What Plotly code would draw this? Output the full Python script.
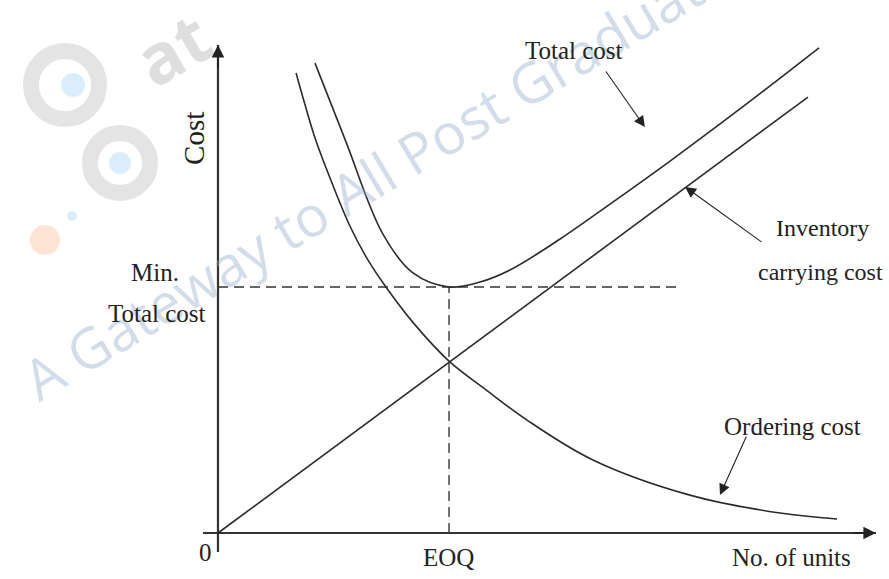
import plotly.graph_objects as go

# ---- data (chart units: EOQ = 100 units, minimum total cost = 100) ----
ordering_x = [33.8, 37.7, 42.0, 48.5, 57.1, 64.9, 72.7, 85.3, 100, 115.6, 133.8, 162.3, 204.3, 243.3, 268.0]
ordering_y = [187.0, 174.0, 160.6, 144.3, 124.8, 111.0, 100.0, 84.6, 69.9, 58.5, 45.9, 29.7, 15.4, 8.1, 5.7]

total_x = [42, 55, 71.4, 84.4, 100, 113.4, 126.4, 148.1, 169.7, 195.7, 228.1, 260.2]
total_y = [191, 160, 121.5, 105.7, 100, 102, 106.9, 119.5, 133.7, 151.2, 173.9, 197.2]

carrying_x = [0, 255.4]
carrying_y = [0, 177.2]

eoq = 100
min_total = 100
min_line_end = 199

x_axis_ext = [-6.5, 284.8]
y_axis_ext = [-7.7, 198.4]

INK = "#2b2b2b"
FONT = "Liberation Serif"

fig = go.Figure()

# axes
fig.add_trace(go.Scatter(x=x_axis_ext, y=[0, 0], mode="lines",
                         line=dict(color="#333", width=2.2), hoverinfo="skip"))
fig.add_trace(go.Scatter(x=[0, 0], y=y_axis_ext, mode="lines",
                         line=dict(color="#333", width=2.2), hoverinfo="skip"))

# dashed guides
fig.add_trace(go.Scatter(x=[0, min_line_end], y=[min_total, min_total], mode="lines",
                         line=dict(color="#333", width=1.5, dash="10px,6px"), hoverinfo="skip"))
fig.add_trace(go.Scatter(x=[eoq, eoq], y=[0, min_total], mode="lines",
                         line=dict(color="#444", width=1.5, dash="10px,6px"), hoverinfo="skip"))

# curves
fig.add_trace(go.Scatter(x=carrying_x, y=carrying_y, mode="lines",
                         line=dict(color=INK, width=1.6), name="Inventory carrying cost"))
fig.add_trace(go.Scatter(x=ordering_x, y=ordering_y, mode="lines",
                         line=dict(color=INK, width=1.6, shape="spline", smoothing=1.0),
                         name="Ordering cost"))
fig.add_trace(go.Scatter(x=total_x, y=total_y, mode="lines",
                         line=dict(color=INK, width=1.6, shape="spline", smoothing=1.0),
                         name="Total cost"))


def px_circle(cx, cy, r, **kw):
    return dict(type="circle", xref="paper", yref="paper", layer="below",
                x0=(cx - r) / 889, x1=(cx + r) / 889,
                y0=1 - (cy + r) / 579, y1=1 - (cy - r) / 579, **kw)


# watermark (faint logo pieces, below data)
shapes = [
    px_circle(65, 85, 34, line=dict(color="#e4e4e4", width=16)),
    px_circle(120, 163, 30, line=dict(color="#e4e4e4", width=16)),
    px_circle(73, 85, 12, fillcolor="#d9eefa", line=dict(width=0)),
    px_circle(120, 163, 11, fillcolor="#d9eefa", line=dict(width=0)),
    px_circle(72, 216, 5, fillcolor="#d9eefa", line=dict(width=0)),
    px_circle(45, 240, 15, fillcolor="#fde3d2", line=dict(width=0)),
]

annotations = [
    dict(text="A Gateway to All Post Graduate", xref="paper", yref="paper",
         x=375 / 889, y=1 - 175 / 579, xanchor="center", yanchor="middle",
         showarrow=False, textangle=-31,
         font=dict(family="Open Sans", size=56, color="rgba(150,175,205,0.42)")),
    dict(text="<b>at</b>", xref="paper", yref="paper", x=172 / 889, y=1 - 48 / 579,
         xanchor="center", yanchor="middle",
         showarrow=False, textangle=-30,
         font=dict(family="Open Sans", size=70, color="rgba(200,200,200,0.6)")),
]


def label(text, x, y, size=25, angle=0):
    annotations.append(dict(text=text, x=x, y=y, xref="x", yref="y", showarrow=False,
                            textangle=angle, xanchor="center", yanchor="middle",
                            font=dict(family=FONT, size=size, color="#222")))


def pointer(tip_x, tip_y, tail_x, tail_y, width=1.1, size=2.0):
    annotations.append(dict(text="", x=tip_x, y=tip_y, ax=tail_x, ay=tail_y,
                            xref="x", yref="y", axref="x", ayref="y",
                            showarrow=True, arrowhead=2, arrowsize=size,
                            arrowwidth=width, arrowcolor="#222"))


# axis arrowheads
pointer(0, y_axis_ext[1], 0, y_axis_ext[1] - 10, width=2, size=1.25)
pointer(x_axis_ext[1], 0, x_axis_ext[1] - 10, 0, width=2, size=1.25)

# text labels
label("Total cost", 154.1, 196.3)
label("Inventory", 261.5, 124.0, size=24)
label("carrying cost", 261.0, 106.1, size=24)
label("Min.", -27.3, 105.7)
label("Total cost", -26.4, 89.4)
label("Ordering cost", 248.9, 43.1)
label("No. of units", 248.1, -9.8)
label("EOQ", 100, -9.8)
label("0", -5.6, -8.1)
label("Cost", -10.4, 160.6, size=29, angle=-90)

# pointer arrows
pointer(184.8, 165.0, 167.5, 188.2)
pointer(202.2, 140.7, 235.9, 117.9)
pointer(217.3, 15.4, 229.0, 39.8)

fig.update_layout(
    width=889, height=579,
    margin=dict(l=0, r=0, t=0, b=0),
    paper_bgcolor="white", plot_bgcolor="white",
    showlegend=False,
    xaxis=dict(visible=False, range=[-94.37, 290.48], fixedrange=True),
    yaxis=dict(visible=False, range=[-18.70, 216.67], fixedrange=True),
    shapes=shapes,
    annotations=annotations,
)

fig.write_html("out.html", config={"displayModeBar": False},
               post_script="document.body.style.margin='0';")
